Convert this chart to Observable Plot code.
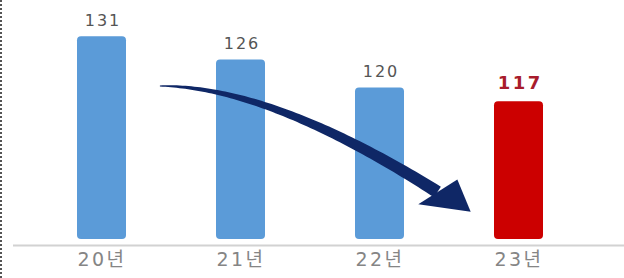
<!DOCTYPE html>
<html>
<head>
<meta charset="utf-8">
<script src="https://cdn.jsdelivr.net/npm/d3@7"></script>
<script src="https://cdn.jsdelivr.net/npm/@observablehq/plot@0.6"></script>
<style>
html, body { margin: 0; padding: 0; background: #fff; }
#wrap { position: relative; width: 624px; height: 278px; overflow: hidden; }
#wrap::before { content: ""; position: absolute; left: 0; top: 0; bottom: 0; border-left: 2px dotted #555; z-index: 2; }
g[aria-label^="x-axis"] text { letter-spacing: 2.5px; }
</style>
</head>
<body>
<div id="wrap"></div>
<script>
// ---- data ----
const years = ["20년", "21년", "22년", "23년"];
const values = [131, 126, 120, 117];
const highlight = [false, false, false, true];

// trend arrow annotation, in (band index position, value) space
const arrowCurve = [
  {pos: 0.42, value: 120.3},
  {pos: 1.21, value: 120.3},
  {pos: 2.417, value: 97.5}
];
const arrowHead = [
  {pos: 2.560, value: 100.2},
  {pos: 2.656, value: 93.26},
  {pos: 2.279, value: 94.85}
];

const yFloor = 86.1, yCeil = 138.8;

const data = years.map((year, i) => ({year, value: values[i], hi: highlight[i]}));

function trendArrow(index, scales) {
  const x = scales.x, y = scales.y;
  const bw = typeof x.bandwidth === "function" ? x.bandwidth() : (x.bandwidth || 0);
  const step = x(years[1]) - x(years[0]);
  const px = p => x(years[0]) + bw / 2 + p * step;
  const P = arrowCurve.map(d => [px(d.pos), y(d.value)]);
  const H = arrowHead.map(d => [px(d.pos), y(d.value)]);
  const N = 80, left = [], right = [];
  const w0 = 0.5, w1 = 6.3;
  for (let k = 0; k <= N; k++) {
    const t = k / N, mt = 1 - t;
    const bx = mt * mt * P[0][0] + 2 * mt * t * P[1][0] + t * t * P[2][0];
    const by = mt * mt * P[0][1] + 2 * mt * t * P[1][1] + t * t * P[2][1];
    const dx = 2 * mt * (P[1][0] - P[0][0]) + 2 * t * (P[2][0] - P[1][0]);
    const dy = 2 * mt * (P[1][1] - P[0][1]) + 2 * t * (P[2][1] - P[1][1]);
    const len = Math.hypot(dx, dy) || 1;
    const nx = -dy / len, ny = dx / len;
    const hw = w0 + (w1 - w0) * Math.pow(t, 0.8);
    left.push([bx + nx * hw, by + ny * hw]);
    right.push([bx - nx * hw, by - ny * hw]);
  }
  const g = d3.create("svg:g").attr("fill", "#0f2766");
  g.append("path").attr("d", "M" + left.join("L") + "L" + right.reverse().join("L") + "Z");
  g.append("path").attr("d", "M" + H.join("L") + "Z");
  return g.node();
}

const chart = Plot.plot({
  width: 624,
  height: 278,
  marginLeft: 13,
  marginRight: 0,
  marginTop: 0,
  marginBottom: 33,
  style: {
    fontFamily: "'DejaVu Sans', 'Noto Sans CJK KR', sans-serif",
    fontSize: "19px",
    color: "#858585",
    background: "transparent"
  },
  x: {
    domain: years,
    paddingInner: 0.65,
    paddingOuter: 0.52,
    align: 0.44,
    tickSize: 0,
    tickPadding: 7,
    label: null
  },
  y: {domain: [yFloor, yCeil], axis: null},
  marks: [
    Plot.ruleY([yFloor], {stroke: "#d2d2d2", strokeWidth: 2}),
    Plot.barY(data.filter(d => !d.hi), {x: "year", y1: () => yFloor, y2: "value", fill: "#5b9bd8", insetBottom: 6, rx: 4}),
    Plot.barY(data.filter(d => d.hi), {x: "year", y1: () => yFloor, y2: "value", fill: "#cc0000", insetBottom: 6, rx: 4}),
    trendArrow,
    Plot.text(data.filter(d => !d.hi), {x: "year", y: "value", text: d => String(d.value), dy: -16, dx: 1, fontSize: 16, fill: "#555555"}),
    Plot.text(data.filter(d => d.hi), {x: "year", y: "value", text: d => String(d.value), dy: -18.5, dx: 1.25, fontSize: 18, fontWeight: "bold", fill: "#a81c2c"})
  ]
});

chart.querySelectorAll('g[aria-label="text"]').forEach(g => {
  const bold = g.getAttribute("font-weight") === "bold";
  g.querySelectorAll("text").forEach(t => t.setAttribute("letter-spacing", bold ? 2.5 : 2));
});

document.getElementById("wrap").appendChild(chart);
</script>
</body>
</html>
